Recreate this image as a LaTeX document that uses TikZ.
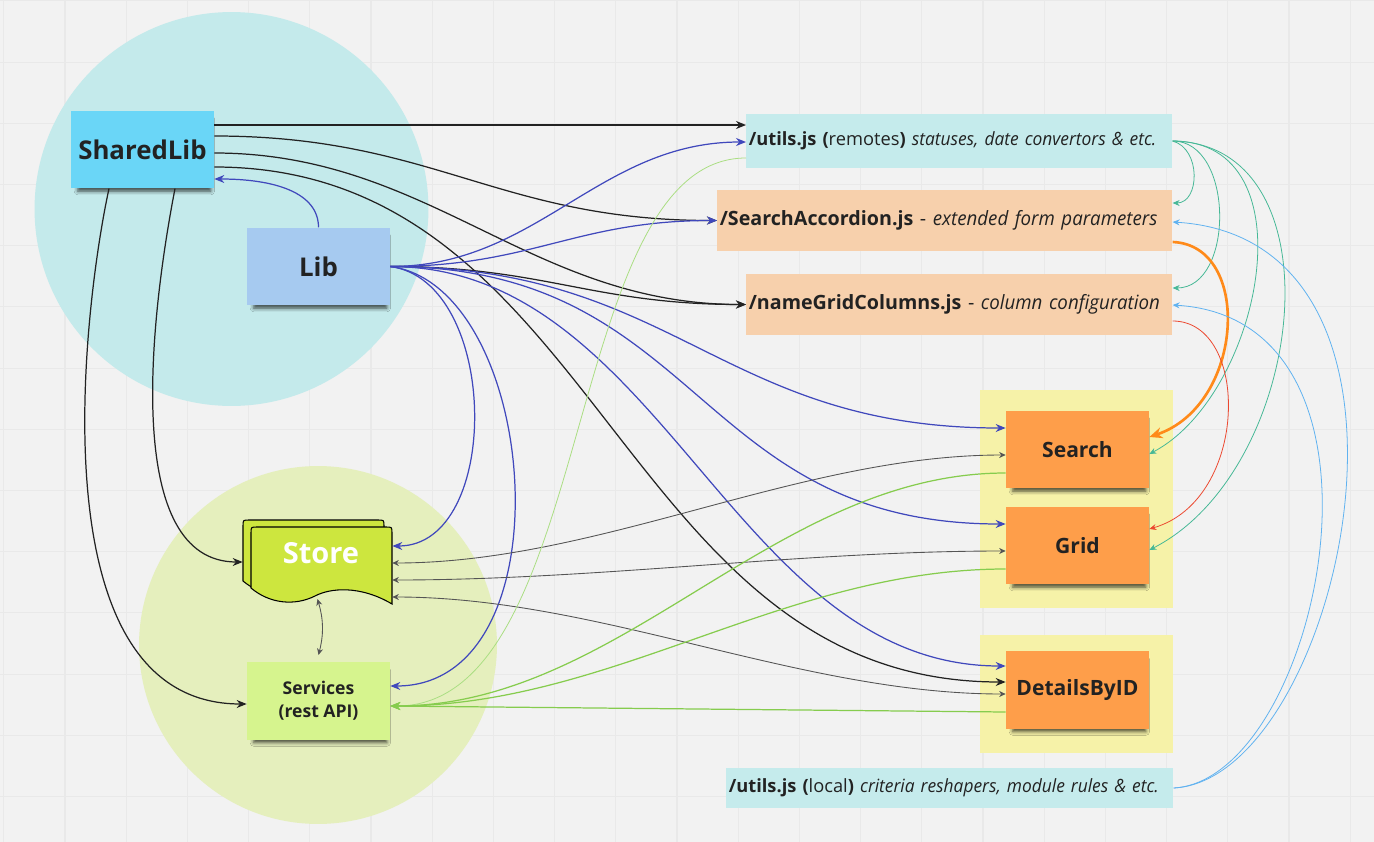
\documentclass[tikz,border=0pt]{standalone}
\usepackage{fontspec}
\setmainfont{Open Sans}[ItalicFeatures={FakeStretch=0.95}]
\usetikzlibrary{arrows.meta,shadows.blur}
\definecolor{canvas}{RGB}{242,242,242}
\definecolor{gridline}{RGB}{233,233,233}
\definecolor{libzone}{RGB}{196,234,235}
\definecolor{storezone}{RGB}{229,239,189}
\definecolor{sharedfill}{RGB}{106,214,247}
\definecolor{libfill}{RGB}{166,202,240}
\definecolor{storefill}{RGB}{205,230,62}
\definecolor{servicefill}{RGB}{214,244,142}
\definecolor{utilfill}{RGB}{197,235,236}
\definecolor{peach}{RGB}{247,208,172}
\definecolor{framefill}{RGB}{246,242,168}
\definecolor{notefill}{RGB}{254,158,74}
\definecolor{inkdark}{RGB}{34,34,34}
\definecolor{linkgrey}{RGB}{85,85,85}
\definecolor{linkblue}{RGB}{64,72,188}
\definecolor{linkgreen}{RGB}{134,204,78}
\definecolor{palegreen}{RGB}{170,222,130}
\definecolor{linkteal}{RGB}{70,184,150}
\definecolor{linkorange}{RGB}{255,138,26}
\definecolor{linkred}{RGB}{236,72,48}
\definecolor{linksky}{RGB}{96,178,240}

\begin{document}
\begin{tikzpicture}[
  x=0.02cm, y=-0.02cm,
  note/.style={rectangle, inner sep=0pt, minimum width=2.86cm, minimum height=1.55cm, text=inkdark, font=\fontsize{12}{14}\selectfont\bfseries, blur shadow={shadow xshift=0.04cm, shadow yshift=-0.12cm, shadow scale=0.93, shadow blur radius=0.08cm, shadow opacity=70}},
  infobox/.style={rectangle, anchor=west, inner xsep=0.05cm, inner ysep=0pt, align=left, text=inkdark, font=\fontsize{11.2}{13}\selectfont},
  groupframe/.style={rectangle, fill=framefill, minimum width=3.86cm},
  storesheet/.style={fill=storefill, draw=black, line width=0.6pt},
  link/.style={-{Stealth[length=0.2cm, width=0.16cm]}, line width=0.7pt, inkdark},
  bold link/.style={-{Stealth[length=0.26cm, width=0.22cm]}, line width=1.5pt},
  fine/.style={-{Stealth[length=0.14cm, width=0.12cm]}, line width=0.45pt},
  twoway/.style={{Stealth[length=0.13cm, width=0.12cm]}-{Stealth[length=0.13cm, width=0.12cm]}, line width=0.5pt, linkgrey}
]
\useasboundingbox (0,0) rectangle (1374,842);

% Board
\fill[canvas] (0,0) rectangle (1374,842);
\foreach \gx in {0,...,22}
  \draw[gridline, line width=0.6pt] ({3.8+61.2*\gx},0) -- ++(0,842);
\foreach \gy in {0,...,13}
  \draw[gridline, line width=0.6pt] (0,{0.9+61.2*\gy}) -- ++(1374,0);

% Zones
\fill[libzone] (231.5,209) circle (3.94cm);
\fill[storezone] (318,645) circle (3.58cm);
\node[groupframe, minimum height=4.36cm] (searchframe) at (1076.5,499) {};
\node[groupframe, minimum height=2.36cm] (detailsframe) at (1076.5,694) {};

% Left column
\node[note, fill=sharedfill, font=\fontsize{14.7}{17}\selectfont\bfseries] (sharedlib) at (142.5,149.5) {SharedLib};
\node[note, fill=libfill, font=\fontsize{14.7}{17}\selectfont\bfseries] (lib) at (318.5,266.5) {Lib};
\foreach \dx/\dy in {-8/-7, 0/0}
  \draw[storesheet, shift={(\dx,\dy)}] (251,588) -- (251,533) .. controls (251,527) .. (257,527) -- (386,527)
    .. controls (392,527) .. (392,533) -- (392,604) .. controls (360,585) and (330,588) .. (315,596)
    .. controls (295,606) and (270,604) .. (251,588) -- cycle;
\node[inner sep=0pt, minimum width=2.98cm, minimum height=1.68cm] (store) at (317.5,562) {};
\node[text=white, font=\fontsize{16.5}{19}\selectfont\bfseries] (storelabel) at (321,553) {Store};
\node[note, fill=servicefill, align=center, font=\fontsize{10}{13}\selectfont\bfseries] (services) at (318.5,701) {Services\\(rest API)};

% Modules
\node[infobox, fill=utilfill, text width=8.42cm, minimum height=1.08cm, font=\fontsize{10.4}{13}\selectfont] (utilsR) at (746,141)
  {\textbf{/utils.js (}remotes\textbf{)} \textit{statuses, date convertors \& etc.}};
\node[infobox, fill=peach, text width=9.0cm, minimum height=1.22cm] (accordion) at (717,220.5)
  {\textbf{/SearchAccordion.js} - \textit{extended form parameters}};
\node[infobox, fill=peach, text width=8.42cm, minimum height=1.22cm] (namegrid) at (746,304.5)
  {\textbf{/nameGridColumns.js} - \textit{column configuration}};
\node[infobox, fill=utilfill, text width=8.84cm, minimum height=0.8cm, font=\fontsize{10.4}{13}\selectfont] (utilsL) at (726,788)
  {\textbf{/utils.js (}local\textbf{)} \textit{criteria reshapers, module rules \& etc.}};

% Screens
\node[note, fill=notefill] (search) at (1077.5,449.5) {Search};
\node[note, fill=notefill] (grid) at (1077.5,545.5) {Grid};
\node[note, fill=notefill] (details) at (1077.5,690) {DetailsByID};

% SharedLib links
\draw[link] (sharedlib.east |- 0,125) -- (utilsR.west |- 0,125);
\draw[link] (sharedlib.east |- 0,136) to[out=0, in=180, looseness=1.1] (accordion.west);
\draw[link] (sharedlib.east |- 0,153) to[out=0, in=180] (namegrid.west);
\draw[link] (sharedlib.east |- 0,167) to[out=0, in=180, looseness=1.05] (details.west |- 0,682);
\draw[link] (sharedlib.south -| 109,0) .. controls +(-24,110) and +(-215,0) .. (services.west |- 0,704);
\draw[link] (sharedlib.south -| 175,0) .. controls +(-27,140) and +(-118,0) .. (store.west);

% Lib links
\draw[link, linkblue] (lib.north) .. controls +(0,-35) and +(60,0) .. (sharedlib.east |- 0,179);
\draw[link, linkblue] (lib.east) to[out=0, in=180] (utilsR.west |- 0,142);
\draw[link, linkblue] (lib.east) to[out=0, in=180, looseness=1.1] (accordion.west);
\draw[link] (lib.east) to[out=0, in=180, looseness=1.1] (namegrid.west);
\draw[link, linkblue] (lib.east) to[out=0, in=180, looseness=1.15] (search.west |- 0,428);
\draw[link, linkblue] (lib.east) to[out=0, in=180, looseness=1.2] (grid.west |- 0,524);
\draw[link, linkblue] (lib.east) to[out=0, in=180, looseness=0.95] (details.west |- 0,666);
\draw[link, linkblue] (lib.east) .. controls +(110,15) and +(110,0) .. (store.east |- 0,546);
\draw[link, linkblue] (lib.east) .. controls +(150,20) and +(180,0) .. (services.east |- 0,686);

% Store links
\draw[twoway] (store.east |- 0,563) to[out=0, in=180, looseness=0.85] (search.west |- 0,455);
\draw[twoway] (store.east |- 0,580) to[out=0, in=180, looseness=0.85] (grid.west |- 0,551);
\draw[twoway] (store.east |- 0,597) to[out=0, in=180, looseness=0.85] (details.west |- 0,694);
\draw[twoway] (store.south |- 0,599) to[bend left=15] (services.north |- 0,655);

% Service calls
\draw[link, palegreen, line width=0.45pt] (utilsR.west |- 0,158) .. controls +(-185,0) and +(207,0) .. (services.east |- 0,706);
\draw[link, linkgreen] (search.west |- 0,473) to[out=180, in=0, looseness=0.9] (services.east |- 0,706);
\draw[link, linkgreen] (grid.west |- 0,569) to[out=180, in=0, looseness=0.9] (services.east |- 0,706);
\draw[link, linkgreen] (details.west |- 0,712) -- (services.east |- 0,706);

% Right side
\draw[fine, linkteal] (utilsR.east) .. controls +(29,8) and +(27,0) .. (accordion.east |- 0,203);
\draw[fine, linkteal] (utilsR.east) .. controls +(62,0) and +(62,0) .. (namegrid.east |- 0,288);
\draw[fine, linkteal] (utilsR.east) .. controls +(140,0) and +(112,-59) .. (search.east |- 0,454);
\draw[fine, linkteal] (utilsR.east) .. controls +(170,3) and +(157,-80) .. (grid.east |- 0,550);
\draw[bold link, linkorange] (accordion.east |- 0,242) .. controls +(80,3) and +(95,-32) .. (search.east |- 0,437);
\draw[fine, linkred] (namegrid.east |- 0,321) .. controls +(78,0) and +(100,-29) .. (grid.east |- 0,529);
\draw[fine, linksky] (utilsL.east) .. controls +(166,-8) and +(289,18) .. (accordion.east |- 0,222);
\draw[fine, linksky] (utilsL.east) .. controls +(146,-8) and +(244,15) .. (namegrid.east |- 0,305);

\end{tikzpicture}
\end{document}
